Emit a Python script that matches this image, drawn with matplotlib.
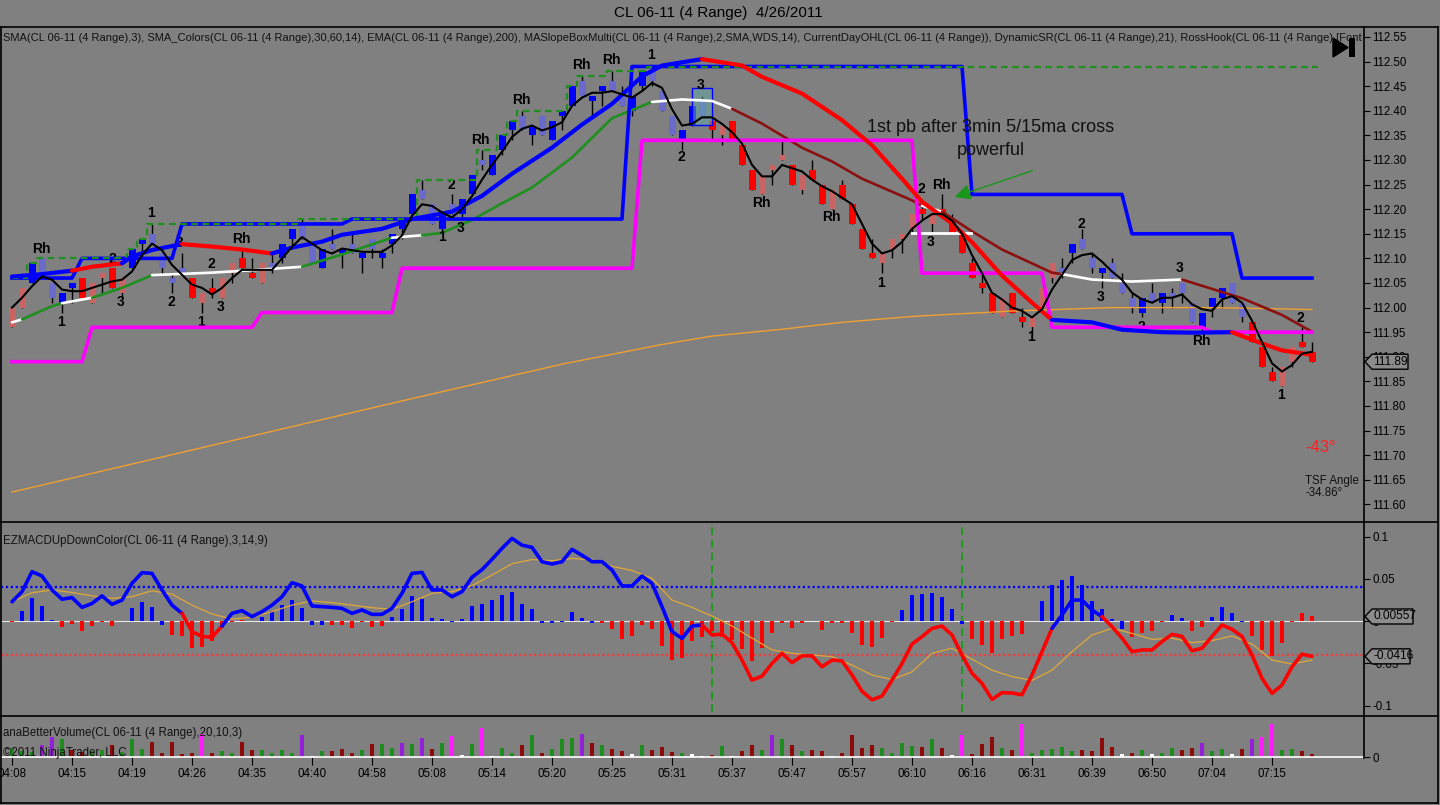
import numpy as np
import pandas as pd
import matplotlib
matplotlib.use("Agg")
import matplotlib.pyplot as plt
from matplotlib.lines import Line2D
from matplotlib.patches import Polygon, Rectangle
from matplotlib.transforms import IdentityTransform

plt.rcParams['font.family'] = ['Liberation Sans', 'DejaVu Sans']

# ---------------- data ----------------
title = "CL 06-11 (4 Range)  4/26/2011"
main_legend = ("SMA(CL 06-11 (4 Range),3), SMA_Colors(CL 06-11 (4 Range),30,60,14), EMA(CL 06-11 (4 Range),200), "
               "MASlopeBoxMulti(CL 06-11 (4 Range),2,SMA,WDS,14), CurrentDayOHL(CL 06-11 (4 Range)), "
               "DynamicSR(CL 06-11 (4 Range),21), RossHook(CL 06-11 (4 Range),[Font N")
macd_legend = "EZMACDUpDownColor(CL 06-11 (4 Range),3,14,9)"
vol_legend = "anaBetterVolume(CL 06-11 (4 Range),20,10,3)"
copyright_txt = "\u00a92011 NinjaTrader, LLC"

time_tick_bars = [0, 6, 12, 18, 24, 30, 36, 42, 48, 54, 60, 66, 72, 78, 84, 90, 96, 102, 108, 114, 120, 126]
time_labels = ["04:08", "04:15", "04:19", "04:26", "04:35", "04:40", "04:58", "05:08", "05:14", "05:20", "05:25",
               "05:31", "05:37", "05:47", "05:57", "06:10", "06:16", "06:31", "06:39", "06:50", "07:04", "07:15"]

opens = [111.96, 112.00, 112.05, 112.10, 112.05, 112.01, 112.04, 112.06, 112.01, 112.06,
         112.08, 112.03, 112.08, 112.13, 112.15, 112.11, 112.06, 112.08, 112.06, 112.01,
         112.04, 112.02, 112.07, 112.10, 112.07, 112.05, 112.09, 112.10, 112.14, 112.17,
         112.13, 112.08, 112.13, 112.11, 112.13, 112.10, 112.14, 112.10, 112.13, 112.16,
         112.19, 112.24, 112.21, 112.16, 112.21, 112.19, 112.23, 112.30, 112.27, 112.32,
         112.36, 112.39, 112.35, 112.39, 112.34, 112.39, 112.41, 112.46, 112.42, 112.44,
         112.46, 112.43, 112.40, 112.45, 112.48, 112.44, 112.39, 112.34, 112.37, 112.42,
         112.38, 112.35, 112.38, 112.33, 112.28, 112.23, 112.28, 112.30, 112.29, 112.24,
         112.28, 112.25, 112.20, 112.25, 112.21, 112.16, 112.11, 112.09, 112.12, 112.14,
         112.16, 112.20, 112.17, 112.20, 112.18, 112.15, 112.09, 112.05, 112.03, 111.98,
         112.03, 111.98, 111.96, 112.00, 112.06, 112.08, 112.11, 112.14, 112.10, 112.07,
         112.09, 112.05, 112.02, 111.99, 112.03, 112.01, 112.03, 112.05, 112.01, 111.96,
         112.00, 112.02, 112.05, 112.01, 111.97, 111.92, 111.87, 111.84, 111.89, 111.93,
         111.91]
highs = [112.00, 112.04, 112.09, 112.10, 112.05, 112.03, 112.05, 112.06, 112.05, 112.07,
         112.08, 112.06, 112.12, 112.14, 112.17, 112.11, 112.07, 112.11, 112.06, 112.03,
         112.06, 112.06, 112.09, 112.12, 112.10, 112.09, 112.11, 112.13, 112.16, 112.18,
         112.13, 112.12, 112.16, 112.12, 112.15, 112.11, 112.14, 112.12, 112.15, 112.18,
         112.23, 112.26, 112.21, 112.19, 112.23, 112.22, 112.27, 112.32, 112.31, 112.35,
         112.38, 112.40, 112.37, 112.39, 112.38, 112.40, 112.45, 112.47, 112.43, 112.45,
         112.48, 112.45, 112.43, 112.48, 112.49, 112.44, 112.39, 112.36, 112.41, 112.43,
         112.38, 112.37, 112.38, 112.33, 112.28, 112.27, 112.29, 112.34, 112.29, 112.27,
         112.30, 112.25, 112.24, 112.26, 112.21, 112.16, 112.14, 112.11, 112.14, 112.15,
         112.19, 112.22, 112.19, 112.23, 112.19, 112.15, 112.10, 112.07, 112.03, 112.02,
         112.03, 112.00, 111.98, 112.04, 112.09, 112.10, 112.13, 112.16, 112.11, 112.08,
         112.10, 112.07, 112.03, 112.02, 112.05, 112.03, 112.04, 112.05, 112.01, 111.99,
         112.02, 112.04, 112.05, 112.01, 111.97, 111.92, 111.88, 111.88, 111.92, 111.96,
         111.93]
lows = [111.96, 112.00, 112.05, 112.06, 112.01, 111.99, 112.01, 112.02, 112.01, 112.03,
        112.04, 112.02, 112.08, 112.10, 112.13, 112.07, 112.03, 112.07, 112.02, 111.99,
        112.02, 112.02, 112.05, 112.08, 112.06, 112.05, 112.07, 112.09, 112.12, 112.14,
        112.09, 112.08, 112.12, 112.08, 112.11, 112.07, 112.10, 112.08, 112.11, 112.14,
        112.19, 112.22, 112.17, 112.15, 112.19, 112.18, 112.23, 112.28, 112.27, 112.31,
        112.34, 112.36, 112.33, 112.35, 112.34, 112.36, 112.41, 112.43, 112.39, 112.41,
        112.44, 112.41, 112.39, 112.44, 112.45, 112.40, 112.35, 112.32, 112.37, 112.39,
        112.34, 112.33, 112.34, 112.29, 112.24, 112.23, 112.25, 112.30, 112.25, 112.23,
        112.26, 112.21, 112.20, 112.22, 112.17, 112.12, 112.10, 112.07, 112.10, 112.11,
        112.15, 112.18, 112.15, 112.19, 112.15, 112.11, 112.06, 112.03, 111.99, 111.98,
        111.99, 111.96, 111.95, 112.00, 112.05, 112.06, 112.09, 112.12, 112.07, 112.04,
        112.06, 112.03, 111.99, 111.98, 112.01, 111.99, 112.00, 112.01, 111.97, 111.95,
        111.98, 112.00, 112.01, 111.97, 111.93, 111.88, 111.85, 111.84, 111.88, 111.92,
        111.89]
closes = [112.00, 112.04, 112.09, 112.06, 112.02, 112.03, 112.05, 112.02, 112.05, 112.07,
          112.04, 112.06, 112.12, 112.14, 112.13, 112.08, 112.05, 112.07, 112.02, 112.03,
          112.03, 112.06, 112.09, 112.08, 112.06, 112.09, 112.08, 112.13, 112.16, 112.14,
          112.09, 112.12, 112.12, 112.12, 112.11, 112.11, 112.12, 112.11, 112.15, 112.18,
          112.23, 112.22, 112.17, 112.19, 112.19, 112.22, 112.27, 112.29, 112.31, 112.35,
          112.38, 112.36, 112.37, 112.35, 112.38, 112.40, 112.45, 112.43, 112.43, 112.45,
          112.44, 112.41, 112.43, 112.48, 112.46, 112.40, 112.35, 112.36, 112.41, 112.39,
          112.36, 112.37, 112.34, 112.29, 112.24, 112.27, 112.29, 112.31, 112.25, 112.27,
          112.26, 112.21, 112.24, 112.22, 112.17, 112.12, 112.10, 112.11, 112.14, 112.15,
          112.19, 112.19, 112.19, 112.19, 112.15, 112.11, 112.06, 112.04, 111.99, 112.02,
          111.99, 111.97, 111.98, 112.04, 112.09, 112.07, 112.13, 112.12, 112.08, 112.08,
          112.06, 112.03, 112.00, 112.02, 112.01, 112.03, 112.02, 112.03, 111.97, 111.99,
          112.02, 112.04, 112.01, 111.98, 111.93, 111.88, 111.85, 111.88, 111.92, 111.92,
          111.89]
candle_codes = list("rrBbbBBRrr" "RrBBbbbbRr" "RrrRRrbBBb" "bBbBbBbBBB" "BbbBbBBbBB"
                    "BbBbBBBbBB" "bbBBbbbBBb" "RrRRRrrrRr" "RRrRRRRrrr" "rRrRRRRRRr"
                    "RRrrrbBbbB" "bbbBbBbbbB" "BBbbRRRrrR" "R")

# SMA_Colors line (green rising / white flat / maroon falling)
ma1_bars = [0, 1, 4, 5, 8, 11, 14, 20, 24, 29, 33, 38, 41, 43, 46, 49, 52, 56, 60, 64,
            67, 70, 72, 75, 79, 82, 85, 90, 91, 93, 96, 99, 104, 105, 108, 112, 117, 120, 123, 127, 130]
ma1_vals = [111.970, 111.976, 112.003, 112.009, 112.020, 112.040, 112.066, 112.071, 112.076, 112.083,
            112.108, 112.142, 112.147, 112.152, 112.178, 112.212, 112.244, 112.305, 112.385, 112.418,
            112.423, 112.420, 112.404, 112.374, 112.325, 112.297, 112.262, 112.218, 112.207, 112.195,
            112.155, 112.118, 112.071, 112.068, 112.057, 112.053, 112.057, 112.038, 112.019, 111.985, 111.951]
ma1_seg = "WGGWGGWWWGGWGGGGGGGWWWMMMMMMWMMMMWWWMMMM"

# MASlopeBox average (blue / red)
ma2_bars = [0, 3, 6, 8, 11, 12, 14, 17, 20, 23, 26, 28, 31, 33, 37, 40, 44, 47, 50, 54,
            57, 60, 63, 65, 69, 73, 75, 79, 83, 86, 89, 91, 94, 96, 99, 102, 104, 108, 111, 115,
            118, 122, 125, 127, 130]
ma2_vals = [112.063, 112.068, 112.075, 112.083, 112.090, 112.104, 112.117, 112.129, 112.124, 112.118,
            112.110, 112.122, 112.134, 112.148, 112.160, 112.180, 112.195, 112.227, 112.272, 112.325,
            112.372, 112.414, 112.470, 112.492, 112.505, 112.492, 112.469, 112.435, 112.381, 112.330,
            112.262, 112.215, 112.171, 112.133, 112.065, 112.010, 111.975, 111.970, 111.955, 111.950,
            111.949, 111.950, 111.927, 111.913, 111.904]
ma2_seg = "BBRRBBBRRR" "BBBBBBBBBB" "BBBBRRRRRR" "RRRRRRBBBB" "BRRR"

# EMA 200
ema_bars = [0, 20, 40, 55, 65, 70, 77, 83, 90, 100, 110, 120, 130]
ema_vals = [111.625, 111.720, 111.815, 111.885, 111.925, 111.942, 111.956, 111.970, 111.982,
            111.993, 112.000, 112.000, 111.996]

# DynamicSR resistance / support, current day high (step levels)
res_start = [0, 7, 17, 34, 62, 96, 112, 123]
res_level = [112.06, 112.10, 112.17, 112.18, 112.49, 112.23, 112.15, 112.06]
sup_start = [0, 8, 25, 39, 63, 91, 104, 120]
sup_level = [111.89, 111.96, 111.99, 112.08, 112.34, 112.07, 111.96, 111.95]
dayhigh_start = [0, 2, 3, 12, 13, 14, 29, 41, 47, 49, 50, 51, 56, 57, 60, 64]
dayhigh_level = [112.06, 112.09, 112.10, 112.12, 112.14, 112.17, 112.18, 112.26, 112.32, 112.35,
                 112.38, 112.40, 112.45, 112.47, 112.48, 112.49]

# RossHook labels
hook_text = ["Rh", "1", "2", "3", "1", "2", "3", "1", "2", "3", "Rh", "1", "2", "3", "Rh", "Rh", "Rh",
             "Rh", "1", "3", "2", "Rh", "Rh", "1", "2", "Rh", "3", "1", "2", "3", "2", "3", "Rh", "2", "1"]
hook_bar = [2.9, 4.9, 10.0, 10.9, 13.9, 15.9, 16.8, 18.9, 19.9, 20.9, 22.9, 43.0, 43.9, 44.9, 46.8, 50.9,
            56.9, 59.9, 63.9, 68.9, 66.9, 74.9, 81.9, 86.9, 90.9, 92.9, 91.9, 101.9, 106.9, 108.9, 112.9,
            116.8, 118.9, 128.8, 126.9]
hook_price = [112.119, 111.971, 112.099, 112.011, 112.192, 112.011, 112.131, 111.971, 112.089, 112.001,
              112.139, 112.143, 112.249, 112.162, 112.341, 112.422, 112.493, 112.503, 112.513, 112.452,
              112.306, 112.213, 112.184, 112.050, 112.241, 112.249, 112.133, 111.940, 112.170, 112.022,
              111.960, 112.080, 111.932, 111.979, 111.822]

# MACD
macd = [0.023, 0.035, 0.0586, 0.0535, 0.037, 0.026, 0.028, 0.0164, 0.021, 0.030,
        0.020, 0.025, 0.0448, 0.0574, 0.0566, 0.037, 0.019, 0.0093, -0.0124, -0.018,
        -0.019, -0.0057, 0.0093, 0.0125, 0.0054, 0.0113, 0.019, 0.029, 0.0456, 0.0416,
        0.018, 0.0172, 0.0164, 0.0152, 0.0093, 0.0133, 0.0081, 0.0081, 0.0152, 0.033,
        0.0566, 0.0578, 0.037, 0.037, 0.029, 0.035, 0.052, 0.061, 0.0732, 0.0862,
        0.098, 0.090, 0.0874, 0.0704, 0.0677, 0.0704, 0.085, 0.078, 0.0704, 0.0704,
        0.0606, 0.0417, 0.0417, 0.0535, 0.0448, 0.0172, -0.0124, -0.0203, -0.0057, -0.0045,
        -0.0163, -0.0152, -0.0255, -0.046, -0.0697, -0.065, -0.050, -0.038, -0.049, -0.041,
        -0.041, -0.054, -0.046, -0.047, -0.0637, -0.083, -0.093, -0.0886, -0.0697, -0.050,
        -0.027, -0.0183, -0.0085, -0.0057, -0.0163, -0.040, -0.0617, -0.0736, -0.0925, -0.0846,
        -0.085, -0.087, -0.0637, -0.036, -0.0085, 0.0073, 0.025, 0.025, 0.0132, 0.0054,
        -0.0065, -0.020, -0.036, -0.034, -0.034, -0.024, -0.0156, -0.018, -0.035, -0.032,
        -0.018, -0.0045, -0.0096, -0.018, -0.040, -0.0676, -0.0854, -0.0755, -0.054, -0.039,
        -0.0416]
macd_color_runs = [("B", 18), ("R", 4), ("B", 48), ("R", 35), ("B", 5), ("R", 21)]
signal_bars = list(range(0, 131, 2))
signal_vals = [0.023, 0.0337, 0.037, 0.034, 0.030, 0.027, 0.029, 0.036, 0.032, 0.019,
               0.0085, 0.0026, 0.0046, 0.0113, 0.019, 0.024, 0.022, 0.019, 0.016, 0.014,
               0.023, 0.033, 0.035, 0.042, 0.0546, 0.068, 0.073, 0.0716, 0.0743, 0.0724,
               0.065, 0.060, 0.0507, 0.025, 0.0164, 0.006, -0.0057, -0.020, -0.034, -0.038,
               -0.040, -0.042, -0.052, -0.0637, -0.069, -0.060, -0.038, -0.032, -0.045, -0.058,
               -0.0656, -0.070, -0.058, -0.036, -0.0164, -0.0085, -0.0144, -0.0215, -0.020, -0.0254,
               -0.023, -0.0175, -0.027, -0.046, -0.0507, -0.046]
hist = [-0.001, 0.0124, 0.028, 0.018, 0.002, -0.007, -0.0035, -0.012, -0.006, -0.001,
        -0.006, 0.0, 0.016, 0.023, 0.017, -0.004, -0.016, -0.018, -0.032, -0.030,
        -0.024, -0.0085, -0.001, 0.002, 0.0, 0.005, 0.012, 0.019, 0.025, 0.016,
        -0.004, -0.004, -0.004, -0.0045, -0.008, -0.0015, -0.0065, -0.006, 0.0045, 0.015,
        0.030, 0.026, 0.004, 0.0026, -0.0013, 0.0026, 0.018, 0.020, 0.025, 0.031,
        0.035, 0.020, 0.0145, -0.002, -0.0025, -0.0005, 0.011, 0.004, -0.0025, -0.0025,
        -0.0096, -0.0215, -0.0175, -0.0045, -0.0096, -0.0294, -0.046, -0.044, -0.023, -0.019,
        -0.0116, -0.0183, -0.022, -0.0334, -0.047, -0.032, -0.0144, -0.0017, -0.0085, -0.0017,
        0.0, -0.011, -0.0025, -0.0017, -0.0136, -0.028, -0.030, -0.0196, -0.001, 0.013,
        0.031, 0.032, 0.033, 0.029, 0.014, -0.003, -0.0215, -0.028, -0.038, -0.0215,
        -0.018, -0.0156, 0.0, 0.024, 0.043, 0.049, 0.0535, 0.043, 0.024, 0.0145,
        0.0026, -0.009, -0.019, -0.0136, -0.0112, -0.0005, 0.0073, 0.004, -0.0116, -0.0065,
        0.0054, 0.0172, 0.010, -0.0013, -0.018, -0.034, -0.041, -0.0255, -0.0013, 0.010,
        0.0056]
hist_codes = list("RBBBBRRRRR" "RRBBBBRRRR" "RRRRRBBBBB" "BBRRRRRRBB" "BBBBBBBBBB"
                  "BBBBBBBBBR" "RRRRRRRRRR" "RRRRRRRRRR" "RRRRRRRRRB" "BBBBBBRRRR"
                  "RRRBBBBBBB" "BBRRRRBBRR" "BBBBRRRRRR" "R")
macd_event_bars = [70, 95]

# Volume
volume = [9, 6, 5, 12, 20, 18, 7, 5, 6, 7, 12, 5, 18, 8, 15, 4, 15, 3, 4, 23,
          4, 6, 4, 15, 7, 7, 4, 7, 4, 22, 1.3, 6, 6, 8, 4, 7, 13, 13, 9, 14,
          13, 19, 8, 14, 21, 2, 13, 29, 1.3, 9, 4, 12, 22, 4, 8, 18, 19, 23, 14, 12,
          8, 6, 3, 12, 7, 10, 5, 4, 3, 1.3, 2, 11, 1.3, 6, 12, 7, 22, 18, 12, 6,
          7, 6, 1.3, 4, 22, 9, 12, 9, 4, 14, 11, 10, 18, 9, 2, 22, 3, 13, 20, 9,
          7, 33, 4, 7, 8, 10, 6, 7, 6, 19, 10, 3, 4, 7, 3, 4, 9, 7, 9, 14,
          6, 8, 3, 8, 18, 20, 33, 7, 8, 6, 3]
vol_codes = list("GGGPPGDDGG" "DGGGDDDDDM" "DGGDDGGGGP" "WGDDDGDGGP" "GPDGMWGMWG"
                 "GDGDGGGPDG" "DDWGDDDGWW" "DGWDDGPGDG" "DDWDDDDGGG" "GDGDWMDDDG"
                 "DMGGGGGDDD" "DWDGWGGDDP" "GGWDPMMGGD" "D")

last_price = 111.89
last_hist = 0.00557
last_macd = -0.0416

# ---------------- styling ----------------
BG = '#808080'
W, H = 1440, 805
CANDLE_COL = {'B': '#0000ff', 'b': '#6a6acc', 'R': '#ff0000', 'r': '#c86464'}
MA1_COL = {'G': '#1f8f1f', 'W': '#ffffff', 'M': '#8b1010'}
MA2_COL = {'B': '#0000ff', 'R': '#ff0000'}
MACD_COL = {'B': '#0000ff', 'R': '#ff0000'}
VOL_COL = {'G': '#1e8c1e', 'D': '#8b0a0a', 'M': '#ff1cff', 'P': '#9420d8', 'W': '#ffffff'}

fig = plt.figure(figsize=(W / 100, H / 100), dpi=100, facecolor=BG)


def frect(x0, y0, x1, y1):
    return [x0 / W, 1 - y1 / H, (x1 - x0) / W, (y1 - y0) / H]


ax = fig.add_axes(frect(1, 27, 1364, 522))
axm = fig.add_axes(frect(1, 522, 1364, 716))
axv = fig.add_axes(frect(1, 716, 1364, 757))
for a in (ax, axm, axv):
    a.set_facecolor(BG)
    for s in a.spines.values():
        s.set_visible(False)
    a.set_xlim(-1.1, 135.2)
    a.yaxis.tick_right()
    a.tick_params(axis='y', direction='out', length=4, width=0.8, colors='black', labelsize=8.3, pad=2)
    a.tick_params(axis='x', bottom=False, labelbottom=False)

ax.set_ylim(111.5642, 112.5703)
axm.set_ylim(-0.1122, 0.1174)
axv.set_ylim(0, 41)

bars = np.arange(len(closes))


def run_plot(a, xs, ys, seg_codes, cmap, lw, z):
    n = len(xs)
    k = 0
    while k < n - 1:
        c = seg_codes[k]
        j = k
        while j + 1 < n - 1 and seg_codes[j + 1] == c:
            j += 1
        a.plot(xs[k:j + 2], ys[k:j + 2], color=cmap[c], lw=lw, zorder=z,
               solid_capstyle='round', solid_joinstyle='round')
        k = j + 1


def expand_steps(starts, levels):
    idx = np.searchsorted(starts, bars, side='right') - 1
    return np.array(levels)[idx]


# ---- main price panel ----
o = np.array(opens); c = np.array(closes)
ax.vlines(bars, lows, highs, colors='black', lw=1, zorder=2)
ax.bar(bars, np.abs(c - o), bottom=np.minimum(o, c), width=0.7,
       color=[CANDLE_COL[k] for k in candle_codes], linewidth=0, zorder=2.5)

ax.plot(ema_bars, ema_vals, color='#f0a030', lw=1.0, zorder=3.5)
ax.plot(bars, expand_steps(sup_start, sup_level), color='#ff00ff', lw=2.6, zorder=4.3)
ax.plot(bars, expand_steps(res_start, res_level), color='#0000ff', lw=2.6, zorder=4.3)
dh = expand_steps(dayhigh_start, dayhigh_level)
ax.plot(bars, dh, color='#1f8f1f', lw=1.6, ls=(0, (3, 2)), drawstyle='steps-mid', zorder=4.4)
ax.plot([bars[-1], bars[-1] + 0.6], [dh[-1], dh[-1]], color='#1f8f1f', lw=1.6, ls=(0, (3, 2)), zorder=4.4)
run_plot(ax, ma1_bars, ma1_vals, ma1_seg, MA1_COL, 1.9, 4.0)
run_plot(ax, ma2_bars, ma2_vals, ma2_seg, MA2_COL, 3.0, 4.5)
sma3 = pd.Series(closes).rolling(3, min_periods=1).mean().values
ax.plot(bars, sma3, color='black', lw=1.5, zorder=6)

# slope box and level line
ax.add_patch(Rectangle((67.95, 112.371), 2.0, 0.075, facecolor=(0.40, 0.66, 0.66, 0.55),
                       edgecolor='#0000ff', lw=1, zorder=3.8))
ax.plot([90, 95.9], [112.152, 112.152], color='white', lw=2, zorder=4.2)

for t, b, p in zip(hook_text, hook_bar, hook_price):
    ax.text(b, p, t, ha='center', va='center', fontsize=10, fontweight='bold', color='black', zorder=4.1)

ax.text(97.85, 112.367, "1st pb after 3min 5/15ma cross", ha='center', va='center', fontsize=13,
        color='#111111', zorder=7)
ax.text(97.85, 112.320, "powerful", ha='center', va='center', fontsize=13, color='#111111', zorder=7)
ax.annotate('', xy=(94.0, 112.223), xytext=(102.3, 112.28),
            arrowprops=dict(arrowstyle='-|>', color='#1a961a', lw=1.0, mutation_scale=24), zorder=7)

ax.set_yticks(np.round(np.arange(111.60, 112.551, 0.05), 2))
ax.set_yticklabels([f"{v:.2f}" for v in np.arange(111.60, 112.551, 0.05)])
ax.text(2 / 1363, 1 - 11 / 495, main_legend, transform=ax.transAxes, ha='left', va='center',
        fontsize=8, color='#111111', clip_on=True, zorder=8)

# ---- MACD panel ----
axm.axhline(0, color='#e6e6e6', lw=0.8, zorder=1)
axm.axhline(0.04, color='#0000ff', lw=1.6, ls=(0, (1, 1.2)), zorder=1)
axm.axhline(-0.04, color='#f03c3c', lw=1.6, ls=(0, (1, 1.2)), zorder=1)
for eb in macd_event_bars:
    axm.axvline(eb, ymin=0.02, ymax=0.975, color='#1f9a1f', lw=1.4, ls=(0, (4, 2.5)), zorder=1.5)
axm.bar(bars, hist, width=0.34, color=[MACD_COL[k] for k in hist_codes], linewidth=0, zorder=2)
axm.plot(signal_bars, signal_vals, color='#e0a83a', lw=0.9, zorder=3)
macd_codes = []
for code, n in macd_color_runs:
    macd_codes += [code] * n
run_plot(axm, list(bars), macd, macd_codes[1:], MACD_COL, 2.6, 4)
axm.set_yticks([-0.1, -0.05, 0, 0.05, 0.1])
axm.set_yticklabels(['-0.1', '-0.05', '0', '0.05', '0.1'])
axm.text(2 / 1363, 1 - 18.5 / 194, macd_legend, transform=axm.transAxes, ha='left', va='center',
         fontsize=8.3, color='#111111')

# ---- Volume panel ----
axv.bar(bars, volume, width=0.34, color=[VOL_COL[k] for k in vol_codes], linewidth=0, zorder=2)
axv.axhline(0, color='white', lw=1.2, zorder=3, clip_on=False)
axv.set_yticks([0])
axv.set_yticklabels(['0'])
axv.set_xticks(time_tick_bars)
axv.set_xticklabels(time_labels)
axv.tick_params(axis='x', bottom=True, labelbottom=True, direction='out', length=6, width=0.8,
                colors='black', labelsize=8.3, pad=2)
axv.text(2 / 1363, 1 - 17 / 41, vol_legend, transform=axv.transAxes, ha='left', va='center',
         fontsize=8.3, color='#111111')
axv.text(2 / 1363, 1 - 36.5 / 41, copyright_txt, transform=axv.transAxes, ha='left', va='center',
         fontsize=8.3, color='#111111')


# ---- figure-level frame, texts, callouts ----
def fline(x0, y0, x1, y1, lw=1.2, color='black'):
    fig.add_artist(Line2D([x0 / W, x1 / W], [1 - y0 / H, 1 - y1 / H], color=color, lw=lw,
                          transform=fig.transFigure))


fline(1, 27, 1438, 27); fline(1438, 27, 1438, 803); fline(1, 803, 1438, 803); fline(1, 27, 1, 803)
fline(1, 522, 1438, 522); fline(1, 716, 1438, 716); fline(1364, 27, 1364, 758)


def ftext(x, y, s, **kw):
    fig.text(x / W, 1 - y / H, s, **kw)


ftext(718, 13, title, ha='center', va='center', fontsize=11, color='black')
ftext(1321, 447, "-43\u00b0", ha='center', va='center', fontsize=12, color='#ff2020')
ftext(1305, 481, "TSF Angle", ha='left', va='center', fontsize=8.3, color='#111111')
ftext(1305, 493, "-34.86\u00b0", ha='left', va='center', fontsize=8.3, color='#111111')

# play-to-end icon
fig.add_artist(Polygon([(1333 / W, 1 - 38 / H), (1333 / W, 1 - 57 / H), (1348 / W, 1 - 47.5 / H)],
                       closed=True, facecolor='black', edgecolor='black', transform=fig.transFigure))
fig.add_artist(Rectangle((1349 / W, 1 - 57 / H), 6 / W, 19 / H, facecolor='black', edgecolor='none',
                         transform=fig.transFigure))


def callout(a, val, txt, width):
    y = a.transData.transform((0, val))[1]
    x0 = 1365
    pts = [(x0, y), (x0 + 7, y + 7.5), (x0 + width, y + 7.5), (x0 + width, y - 7.5), (x0 + 7, y - 7.5)]
    fig.add_artist(Polygon(pts, closed=True, transform=IdentityTransform(), facecolor='#8c8c8c',
                           edgecolor='black', lw=1, zorder=10))
    fig.text((x0 + 8) / W, y / H, txt, ha='left', va='center', fontsize=8.6, color='black', zorder=11)


callout(ax, last_price, f"{last_price:.2f}", 43)
callout(axm, last_hist, f"{last_hist:.5f}", 48)
callout(axm, last_macd, f"{last_macd:.4f}", 45)

fig.savefig('out.png', dpi=100, facecolor=BG)
